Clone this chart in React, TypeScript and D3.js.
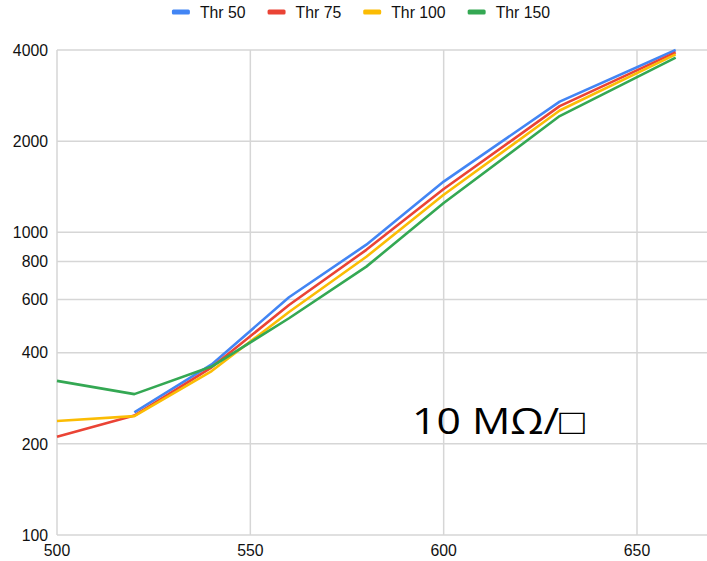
import React from "react";
import * as d3 from "d3";

// Wavelength samples (x) and response per threshold series (log y)
const wavelengths = [500, 520, 540, 560, 580, 600, 630, 660];
const thr50: (number | null)[] = [null, 254, 366, 610, 910, 1470, 2700, 4000];
const thr75: (number | null)[] = [211, 248, 358, 575, 875, 1390, 2610, 3930];
const thr100: (number | null)[] = [238, 247, 348, 545, 830, 1330, 2525, 3870];
const thr150: (number | null)[] = [323, 292, 360, 520, 770, 1250, 2420, 3775];

const seriesNames = ["Thr 50", "Thr 75", "Thr 100", "Thr 150"];
const seriesColors = ["#4285f4", "#ea4335", "#fbbc04", "#34a853"];
const seriesValues = [thr50, thr75, thr100, thr150];

const xTicks = [500, 550, 600, 650];
const yTicks = [100, 200, 400, 600, 800, 1000, 2000, 4000];
const annotation = "10 MΩ/□";

const W = 707;
const H = 561;
const left = 57;
const right = 707;
const top = 50;
const bottom = 535;

const labelFont = "'Liberation Sans', Arial, sans-serif";

function measure(text: string, font: string): number {
  const c = document.createElement("canvas").getContext("2d");
  if (!c) return text.length * 8;
  c.font = font;
  return c.measureText(text).width;
}

export default function App() {
  const x = d3.scaleLinear().domain([500, 668.1]).range([left, right]);
  const y = d3.scaleLog().domain([100, 4000]).range([bottom, top]);

  const line = d3
    .line<[number, number | null]>()
    .defined((d) => d[1] != null)
    .x((d) => x(d[0]))
    .y((d) => y(d[1] as number));

  // legend layout
  const legendFontSize = 15.8;
  const legendFont = `${legendFontSize}px ${labelFont}`;
  const swatchW = 18;
  const swatchGap = 10;
  const itemGap = 22;
  const widths = seriesNames.map((n) => measure(n, legendFont));
  const totalW =
    widths.reduce((a, b) => a + b, 0) +
    seriesNames.length * (swatchW + swatchGap) +
    (seriesNames.length - 1) * itemGap;
  let cursor = 361 - totalW / 2;
  const legendItems = seriesNames.map((n, i) => {
    const item = { name: n, color: seriesColors[i], x: cursor };
    cursor += swatchW + swatchGap + widths[i] + itemGap;
    return item;
  });

  const gridColor = "#d6d6d6";
  const tickSize = 15.8;

  return (
    <svg width={W} height={H} style={{ display: "block", position: "absolute", left: 0, top: 0, background: "#fff" }}>
      <rect width={W} height={H} fill="#fff" />
      {/* horizontal grid */}
      {yTicks.map((t) => (
        <line key={"hy" + t} x1={left} x2={right} y1={y(t)} y2={y(t)} stroke={gridColor} strokeWidth={1.5} />
      ))}
      {/* vertical grid */}
      {xTicks.map((t) => (
        <line key={"vx" + t} x1={x(t)} x2={x(t)} y1={top} y2={bottom} stroke={gridColor} strokeWidth={1.5} />
      ))}
      {/* axis tick labels */}
      {yTicks.map((t) => (
        <text
          key={"ly" + t}
          x={48}
          y={y(t)}
          dy="0.36em"
          textAnchor="end"
          fontFamily={labelFont}
          fontSize={tickSize}
          fill="#111"
        >
          {t}
        </text>
      ))}
      {xTicks.map((t) => (
        <text
          key={"lx" + t}
          x={x(t)}
          y={556}
          textAnchor="middle"
          fontFamily={labelFont}
          fontSize={tickSize}
          fill="#111"
        >
          {t}
        </text>
      ))}
      {/* series lines */}
      {seriesValues.map((vals, i) => (
        <path
          key={seriesNames[i]}
          d={line(wavelengths.map((w, j) => [w, vals[j]] as [number, number | null])) || ""}
          fill="none"
          stroke={seriesColors[i]}
          strokeWidth={2.6}
          strokeLinejoin="round"
        />
      ))}
      {/* annotation */}
      <text
        x={412}
        y={434}
        fontFamily="'Open Sans', 'Noto Sans', sans-serif"
        fontSize={36}
        fill="#000"
        textLength={173}
        lengthAdjust="spacingAndGlyphs"
      >
        {annotation}
      </text>
      {/* legend */}
      {legendItems.map((it) => (
        <g key={it.name}>
          <rect x={it.x} y={9.5} width={swatchW} height={5} rx={1.5} fill={it.color} />
          <text
            x={it.x + swatchW + swatchGap}
            y={17.5}
            fontFamily={labelFont}
            fontSize={legendFontSize}
            fill="#111"
          >
            {it.name}
          </text>
        </g>
      ))}
    </svg>
  );
}
